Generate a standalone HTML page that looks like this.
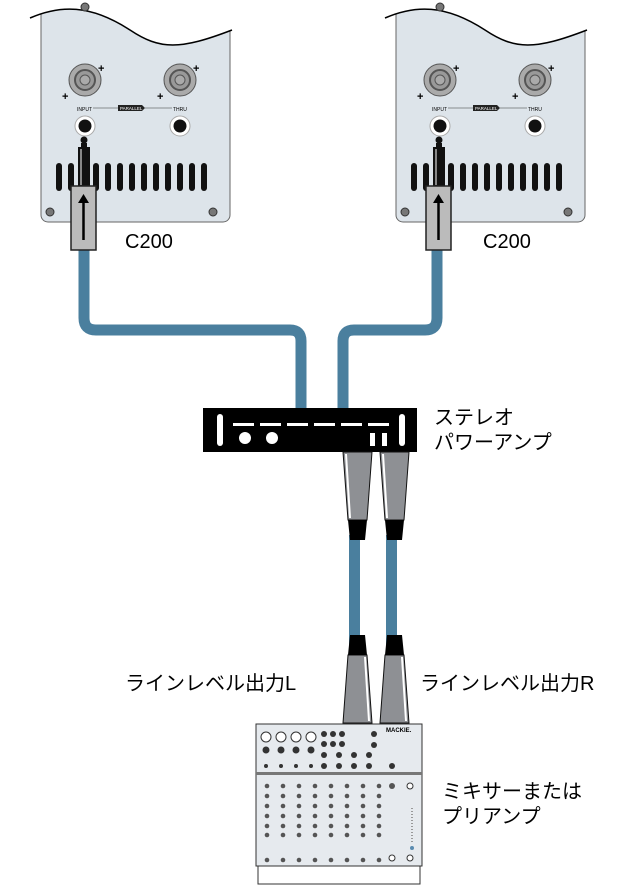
<!DOCTYPE html>
<html><head><meta charset="utf-8"><style>
html,body{margin:0;padding:0;background:#fff;width:627px;height:889px;overflow:hidden}
svg text{font-family:"Liberation Sans","Noto Sans CJK JP",sans-serif}
</style></head><body>
<svg width="627" height="889" viewBox="0 0 627 889" xmlns="http://www.w3.org/2000/svg">
<defs>
<clipPath id="cp"><path d="M30,18 C60,5 90,4 130,30 C160,50 180,50 232,30 L232,230 L30,230Z"/></clipPath>
<g id="spk">
  <rect x="41" y="0" width="189" height="222" rx="7" fill="#dde4ea" stroke="#666" stroke-width="1" clip-path="url(#cp)"/>
  <path d="M30,18 C60,5 90,4 130,30 C160,50 180,50 232,30" fill="none" stroke="#000" stroke-width="1.5"/>
  <circle cx="85" cy="7" r="4" fill="#777" stroke="#333"/>
  <circle cx="85" cy="80" r="16" fill="#aaa" stroke="#555"/>
  <circle cx="85" cy="80" r="10" fill="#999" stroke="#555" stroke-width="2"/>
  <circle cx="85" cy="80" r="5" fill="#aaa" stroke="#555"/>
  <circle cx="180" cy="80" r="16" fill="#aaa" stroke="#555"/>
  <circle cx="180" cy="80" r="10" fill="#999" stroke="#555" stroke-width="2"/>
  <circle cx="180" cy="80" r="5" fill="#aaa" stroke="#555"/>
  <text x="98" y="72" font-size="11" font-weight="bold">+</text><text x="62" y="100" font-size="11" font-weight="bold">+</text>
  <text x="193" y="72" font-size="11" font-weight="bold">+</text><text x="157" y="100" font-size="11" font-weight="bold">+</text>
  <text x="77" y="111" font-size="5">INPUT</text>
  <line x1="93" y1="108" x2="118" y2="108" stroke="#333" stroke-width="0.6"/>
  <path d="M118,105 L142,105 L145,108 L142,111 L118,111Z" fill="#222"/>
  <text x="120" y="110" font-size="4.5" fill="#fff">PARALLEL</text>
  <line x1="145" y1="108" x2="172" y2="108" stroke="#333" stroke-width="0.6"/>
  <text x="173" y="111" font-size="5">THRU</text>
  <circle cx="85" cy="126" r="10" fill="#fff" stroke="#aaa"/><circle cx="85" cy="126" r="6.5" fill="#111"/>
  <circle cx="180" cy="126" r="10" fill="#fff" stroke="#aaa"/><circle cx="180" cy="126" r="6.5" fill="#111"/>
  <g fill="#111">
    <rect x="56" y="163" width="6" height="28" rx="3"/><rect x="68" y="163" width="6" height="28" rx="3"/>
    <rect x="93" y="163" width="6" height="28" rx="3"/><rect x="105" y="163" width="6" height="28" rx="3"/>
    <rect x="117" y="163" width="6" height="28" rx="3"/><rect x="129" y="163" width="6" height="28" rx="3"/>
    <rect x="141" y="163" width="6" height="28" rx="3"/><rect x="153" y="163" width="6" height="28" rx="3"/>
    <rect x="165" y="163" width="6" height="28" rx="3"/><rect x="177" y="163" width="6" height="28" rx="3"/>
    <rect x="189" y="163" width="6" height="28" rx="3"/><rect x="201" y="163" width="6" height="28" rx="3"/>
  </g>
  <circle cx="50" cy="212" r="4" fill="#777" stroke="#333"/><circle cx="213" cy="212" r="4" fill="#777" stroke="#333"/>
  <circle cx="84" cy="140" r="3.5" fill="#111"/>
  <rect x="81" y="143" width="6" height="4" fill="#111"/>
  <rect x="78" y="147" width="12" height="40" fill="#111"/>
  <rect x="80" y="149" width="2" height="36" fill="#888"/>
  <rect x="71" y="186" width="25" height="64" fill="#bbb" stroke="#222" stroke-width="1.5"/>
  <line x1="83.5" y1="240" x2="83.5" y2="200" stroke="#000" stroke-width="2.5"/>
  <path d="M78,203 L83.5,194 L89,203Z" fill="#000"/>
</g>
<g id="trump">
  <path d="M0,0 L29,0 L24,68 L5,68Z" fill="#8e9094" stroke="#111"/>
  <path d="M3,2 L7,66" stroke="#fff" stroke-width="2"/>
  <path d="M5,68 L24,68 L22,88 L7,88Z" fill="#000"/>
</g>
</defs>
<path d="M84,250 L84,318 Q84,330 96,330 L290,330 Q301,330 301,341 L301,410" fill="none" stroke="#4a7f9e" stroke-width="11"/>
<path d="M437,250 L437,318 Q437,330 425,330 L354,330 Q343,330 343,341 L343,410" fill="none" stroke="#4a7f9e" stroke-width="11"/>
<use href="#spk"/>
<use href="#spk" x="355"/>
<text x="125" y="248" font-size="20">C200</text>
<text x="483" y="248" font-size="20">C200</text>
<rect x="203" y="408" width="214" height="44" fill="#000"/>
<rect x="217" y="414" width="6" height="32" rx="3" fill="#fff"/>
<rect x="399" y="414" width="6" height="32" rx="3" fill="#fff"/>
<g fill="#fff"><rect x="233" y="423" width="21" height="3"/><rect x="260" y="423" width="21" height="3"/><rect x="287" y="423" width="21" height="3"/><rect x="314" y="423" width="21" height="3"/><rect x="341" y="423" width="21" height="3"/><rect x="368" y="423" width="21" height="3"/></g>
<circle cx="245" cy="438" r="6" fill="#fff"/><circle cx="272" cy="438" r="6" fill="#fff"/>
<rect x="370" y="433" width="5" height="13" fill="#fff"/><rect x="382" y="433" width="5" height="13" fill="#fff"/>
<rect x="349" y="535" width="11" height="120" fill="#4a7f9e"/>
<rect x="386" y="535" width="11" height="120" fill="#4a7f9e"/>
<use href="#trump" x="343" y="452"/>
<use href="#trump" x="380" y="452"/>
<use href="#trump" transform="translate(372,723) scale(-1,-1)"/>
<use href="#trump" transform="translate(409,723) scale(-1,-1)"/>
<text x="434" y="424" font-size="20">ステレオ</text>
<text x="434" y="449" font-size="20">パワーアンプ</text>
<text x="125" y="690" font-size="20">ラインレベル出力L</text>
<text x="420" y="690" font-size="20">ラインレベル出力R</text>
<text x="442" y="798" font-size="20">ミキサーまたは</text>
<text x="442" y="823" font-size="20">プリアンプ</text>
<rect x="256" y="724" width="166" height="142" fill="#e6eaee" stroke="#333"/>
<rect x="256" y="772" width="166" height="3" fill="#777"/>
<rect x="258" y="866" width="162" height="18" fill="#fff" stroke="#333"/>
<text x="386" y="732" font-size="6" font-weight="bold">MACKIE.</text>
<g fill="#333">
<circle cx="266" cy="737" r="5" fill="#fff" stroke="#333"/><circle cx="281" cy="737" r="5" fill="#fff" stroke="#333"/><circle cx="296" cy="737" r="5" fill="#fff" stroke="#333"/><circle cx="311" cy="737" r="5" fill="#fff" stroke="#333"/>
<circle cx="266" cy="750" r="3.5"/><circle cx="281" cy="750" r="3.5"/><circle cx="296" cy="750" r="3.5"/><circle cx="311" cy="750" r="3.5"/>
<circle cx="266" cy="766" r="2"/><circle cx="281" cy="766" r="2"/><circle cx="296" cy="766" r="2"/><circle cx="311" cy="766" r="2"/>
<circle cx="324" cy="734" r="3"/><circle cx="333" cy="734" r="3"/><circle cx="342" cy="734" r="3"/>
<circle cx="324" cy="744" r="3"/><circle cx="333" cy="744" r="3"/><circle cx="342" cy="744" r="3"/>
<circle cx="324" cy="755" r="3"/><circle cx="339" cy="755" r="3"/><circle cx="354" cy="755" r="3"/><circle cx="369" cy="755" r="3"/>
<circle cx="324" cy="766" r="3"/><circle cx="339" cy="766" r="3"/><circle cx="354" cy="766" r="3"/><circle cx="369" cy="766" r="3"/>
<circle cx="374" cy="734" r="3"/><circle cx="374" cy="745" r="3"/><circle cx="392" cy="766" r="3"/>
</g>
<g fill="#555">
<circle cx="267" cy="786" r="2.3"/><circle cx="283" cy="786" r="2.3"/><circle cx="299" cy="786" r="2.3"/><circle cx="315" cy="786" r="2.3"/><circle cx="331" cy="786" r="2.3"/><circle cx="347" cy="786" r="2.3"/><circle cx="363" cy="786" r="2.3"/><circle cx="379" cy="786" r="2.3"/>
<circle cx="267" cy="796" r="2.3"/><circle cx="283" cy="796" r="2.3"/><circle cx="299" cy="796" r="2.3"/><circle cx="315" cy="796" r="2.3"/><circle cx="331" cy="796" r="2.3"/><circle cx="347" cy="796" r="2.3"/><circle cx="363" cy="796" r="2.3"/><circle cx="379" cy="796" r="2.3"/>
<circle cx="267" cy="806" r="2.3"/><circle cx="283" cy="806" r="2.3"/><circle cx="299" cy="806" r="2.3"/><circle cx="315" cy="806" r="2.3"/><circle cx="331" cy="806" r="2.3"/><circle cx="347" cy="806" r="2.3"/><circle cx="363" cy="806" r="2.3"/><circle cx="379" cy="806" r="2.3"/>
<circle cx="267" cy="816" r="2.3"/><circle cx="283" cy="816" r="2.3"/><circle cx="299" cy="816" r="2.3"/><circle cx="315" cy="816" r="2.3"/><circle cx="331" cy="816" r="2.3"/><circle cx="347" cy="816" r="2.3"/><circle cx="363" cy="816" r="2.3"/><circle cx="379" cy="816" r="2.3"/>
<circle cx="267" cy="826" r="2.3"/><circle cx="283" cy="826" r="2.3"/><circle cx="299" cy="826" r="2.3"/><circle cx="315" cy="826" r="2.3"/><circle cx="331" cy="826" r="2.3"/><circle cx="347" cy="826" r="2.3"/><circle cx="363" cy="826" r="2.3"/><circle cx="379" cy="826" r="2.3"/>
<circle cx="267" cy="835" r="2.3"/><circle cx="283" cy="835" r="2.3"/><circle cx="299" cy="835" r="2.3"/><circle cx="315" cy="835" r="2.3"/><circle cx="331" cy="835" r="2.3"/><circle cx="347" cy="835" r="2.3"/><circle cx="363" cy="835" r="2.3"/><circle cx="379" cy="835" r="2.3"/>
<circle cx="267" cy="860" r="2.3"/><circle cx="283" cy="860" r="2.3"/><circle cx="299" cy="860" r="2.3"/><circle cx="315" cy="860" r="2.3"/><circle cx="331" cy="860" r="2.3"/><circle cx="347" cy="860" r="2.3"/><circle cx="363" cy="860" r="2.3"/><circle cx="379" cy="860" r="2.3"/>
<circle cx="392" cy="786" r="3"/><circle cx="410" cy="786" r="3" fill="#fff" stroke="#333"/><circle cx="392" cy="858" r="3" fill="#fff" stroke="#333"/><circle cx="410" cy="858" r="3" fill="#fff" stroke="#333"/>
</g>
<line x1="412" y1="808" x2="412" y2="842" stroke="#999" stroke-width="2" stroke-dasharray="1,2"/>
<circle cx="412" cy="848" r="2" fill="#5a8bb0"/>
</svg>
</body></html>
